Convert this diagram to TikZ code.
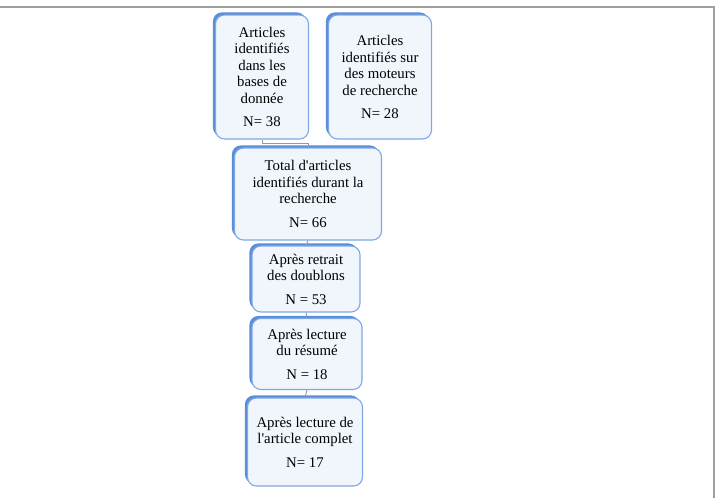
\documentclass[tikz,border=0pt]{standalone}
\usepackage{fontspec}
\setmainfont{Liberation Serif}
\usetikzlibrary{positioning, shadows}
\definecolor{bxBorder}{HTML}{7EA8E6}
\definecolor{bxFill}{HTML}{F1F6FD}
\definecolor{bxShadow}{HTML}{5B8ED8}
\definecolor{lnGray}{HTML}{8C9BB0}

\begin{document}
\begin{tikzpicture}[
  x=1pt, y=-1pt,
  every node/.style={font=\fontsize{14.8}{16.5}\selectfont, align=center},
  stage/.style={
    fill=bxFill,
    draw=bxBorder,
    line width=1.1pt,
    rounded corners=9pt,
    inner sep=2pt,
    general shadow={fill=bxShadow, shadow xshift=-2.6pt, shadow yshift=2.6pt}
  },
  link/.style={draw=lnGray, line width=0.9pt},
  frame/.style={draw=gray!75, line width=1.6pt}
]

\useasboundingbox (0,0) rectangle (720,498);
\draw[frame] (0,7) -- (714,7) -- (714,498);

\node[stage, minimum width=93pt, minimum height=124pt] (bases) at (262,77)
{Articles\\identifiés\\dans les\\bases de\\donnée\\[7pt]N= 38};

\node[stage, minimum width=103pt, minimum height=124pt] (moteurs) at (380,77)
{Articles\\identifiés sur\\des moteurs\\de recherche\\[7pt]N= 28};

\node[stage, minimum width=147pt, minimum height=92pt] (total) at (308,194)
{Total d\textquotesingle articles\\identifiés durant la\\recherche\\[7pt]N= 66};

\node[stage, minimum width=108pt, minimum height=66pt] (doublons) at (306,279)
{Après retrait\\des doublons\\[7pt]N = 53};

\node[stage, minimum width=110pt, minimum height=71pt] (resume) at (307,354)
{Après lecture\\du résumé\\[7pt]N = 18};

\node[stage, minimum width=115pt, minimum height=88pt] (complet) at (305,442)
{Après lecture de\\l\textquotesingle article complet\\[7pt]N= 17};

\draw[link] (bases.south) -- ++(0,4) -| (total.north);
\draw[link] (total.south) -- (doublons.north);
\draw[link] (doublons.south) -- (resume.north);
\draw[link] (resume.south) -- (complet.north);

\end{tikzpicture}
\end{document}
